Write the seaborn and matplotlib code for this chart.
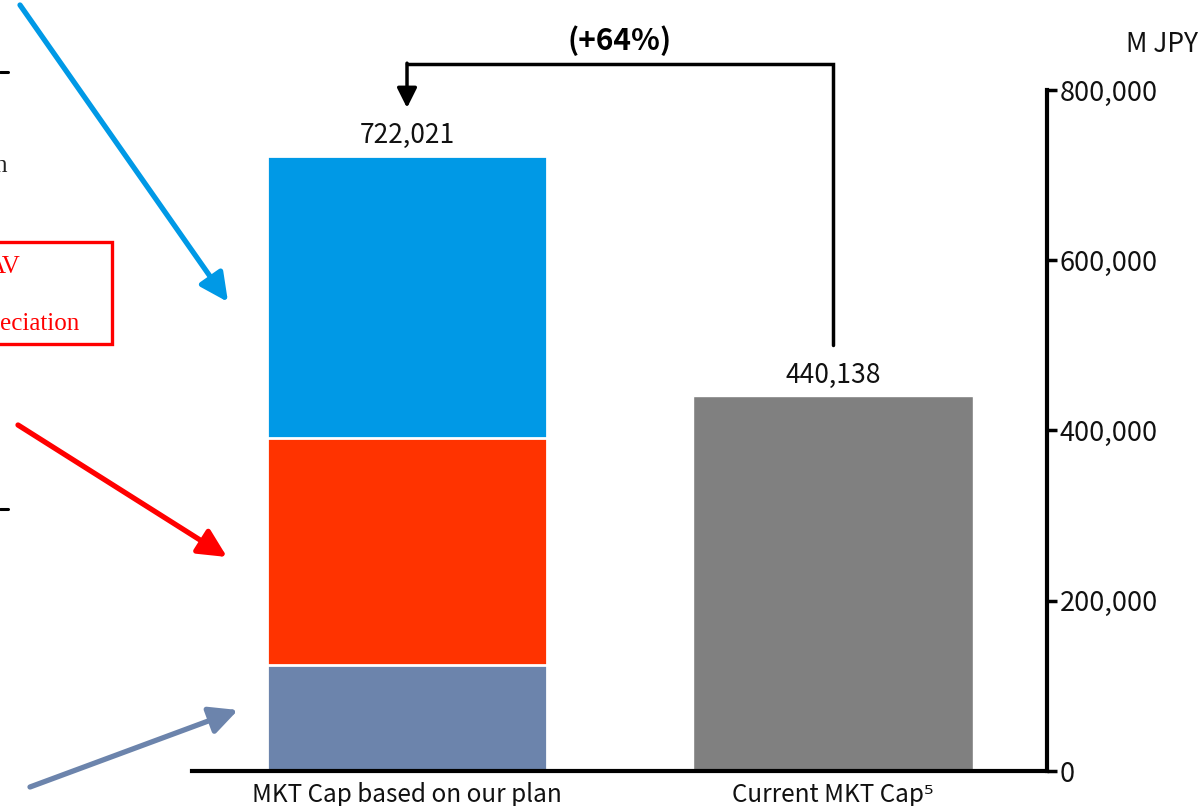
import numpy as np
import pandas as pd
import matplotlib
matplotlib.use("Agg")
import matplotlib.pyplot as plt
import seaborn as sns
from matplotlib.patches import FancyArrowPatch, Rectangle
from matplotlib.lines import Line2D
from matplotlib.ticker import FuncFormatter

# ---- data -------------------------------------------------------------
categories = ["MKT Cap based on our plan", "Current MKT Cap\u2075"]
plan_segments = [125000, 266000, 331021]          # stacked from bottom to top
plan_colors = ["#6C84AC", "#FF3300", "#0099E6"]
current_value = 440138
current_color = "#808080"
y_ticks = [0, 200000, 400000, 600000, 800000]
unit_label = "M JPY"

# ---- style ------------------------------------------------------------
sns.set_style("white")
plt.rcParams["font.family"] = ["Noto Sans CJK JP", "DejaVu Sans"]
serif = ["Liberation Serif", "DejaVu Serif"]
txt_color = "#111111"

W, H = 1204, 806
fig = plt.figure(figsize=(W / 100, H / 100), dpi=100)


def px(x, y):
    """pixel position (from top-left) -> figure fraction"""
    return x / W, 1 - y / H


left, bottom = px(192, 771)
right, top = px(1047, 90)
ax = fig.add_axes([left, bottom, right - left, top - bottom])

# cumulative heights so that each layer can be overdrawn from the top down
plan_cum = np.cumsum(plan_segments)
bar_width = 0.657
for level in range(len(plan_segments) - 1, -1, -1):
    df = pd.DataFrame({"category": [categories[0]], "value": [plan_cum[level]]})
    sns.barplot(data=df, x="category", y="value", order=categories,
                color=plan_colors[level], saturation=1, width=bar_width,
                edgecolor="white", linewidth=2, ax=ax)
df_cur = pd.DataFrame({"category": [categories[1]], "value": [current_value]})
sns.barplot(data=df_cur, x="category", y="value", order=categories,
            color=current_color, saturation=1, width=bar_width,
            edgecolor="white", linewidth=1, ax=ax)

plan_total = plan_cum[-1]
totals = [plan_total, current_value]

ax.set_xlim(-0.5047, 1.5023)
ax.set_ylim(0, 800000)
ax.set_xlabel("")
ax.set_ylabel("")

# axes: right value axis, heavy baseline
for side in ("left", "top"):
    ax.spines[side].set_visible(False)
for side in ("right", "bottom"):
    ax.spines[side].set_visible(True)
    ax.spines[side].set_linewidth(3)
    ax.spines[side].set_color("black")
ax.yaxis.tick_right()
ax.set_yticks(y_ticks)
ax.yaxis.set_major_formatter(FuncFormatter(lambda v, p: f"{int(v):,}"))
ax.tick_params(axis="y", direction="out", length=7, width=2.5,
               labelsize=19.5, pad=2, colors="black")
ax.tick_params(axis="x", length=0, labelsize=17.5, pad=8, colors="black")
for lbl in ax.get_xticklabels() + ax.get_yticklabels():
    lbl.set_color(txt_color)

# value labels
for i, v in enumerate(totals):
    ax.annotate(f"{v:,}", xy=(i, v), xytext=(0, 5), textcoords="offset points",
                ha="center", va="bottom", fontsize=19, color=txt_color)

# growth bracket from the current value to the planned value
bracket_y = 830000
start_y = current_value + 60000
tip_y = plan_total + 57000
ax.plot([1, 1, 0], [start_y, bracket_y, bracket_y], color="black", lw=2.5,
        solid_joinstyle="miter", clip_on=False)
ax.annotate("", xy=(0, tip_y), xytext=(0, bracket_y + 1500),
            arrowprops=dict(arrowstyle="-|>,head_length=0.6,head_width=0.3",
                            mutation_scale=20, color="black", lw=2.5,
                            shrinkA=0, shrinkB=0),
            annotation_clip=False)
growth = (plan_total / current_value - 1) * 100
ax.text(0.5, 858000, f"(+{growth:.0f}%)", ha="center", va="center",
        fontsize=21.5, fontweight="bold", color="black", clip_on=False)

fig.text(*px(1162, 44), unit_label, ha="center", va="center",
         fontsize=19, color=txt_color)

# callout arrows on the left pointing into the stacked bar
callouts = [((20, 5), (228, 302), plan_colors[2]),
            ((18, 425), (227, 557), "#FF0000"),
            ((30, 787), (238, 710), plan_colors[0])]
for (a, b, c) in callouts:
    fig.patches.append(FancyArrowPatch(
        px(*a), px(*b), transform=fig.transFigure,
        arrowstyle="-|>,head_length=0.85,head_width=0.42", mutation_scale=20,
        color=c, lw=3.8, shrinkA=0, shrinkB=0))

# partial side annotations
fig.text(*px(7, 172), "n", ha="right", va="baseline", fontsize=18,
         family=serif, color="#222222")
fig.text(*px(20, 273), "AV", ha="right", va="baseline", fontsize=18,
         family=serif, color="#FF0000")
fig.text(*px(79, 330), "eciation", ha="right", va="baseline", fontsize=18,
         family=serif, color="#FF0000")
x0, y0 = px(-20, 344)
x1, y1 = px(112, 242)
fig.patches.append(Rectangle((x0, y0), x1 - x0, y1 - y0,
                             transform=fig.transFigure, fill=False,
                             edgecolor="#FF0000", lw=2.4))
for yy in (72, 509):
    fig.lines.append(Line2D([0, 8 / W], [1 - yy / H] * 2,
                            transform=fig.transFigure, color="black", lw=2.2))

fig.savefig("out.png", dpi=100)
